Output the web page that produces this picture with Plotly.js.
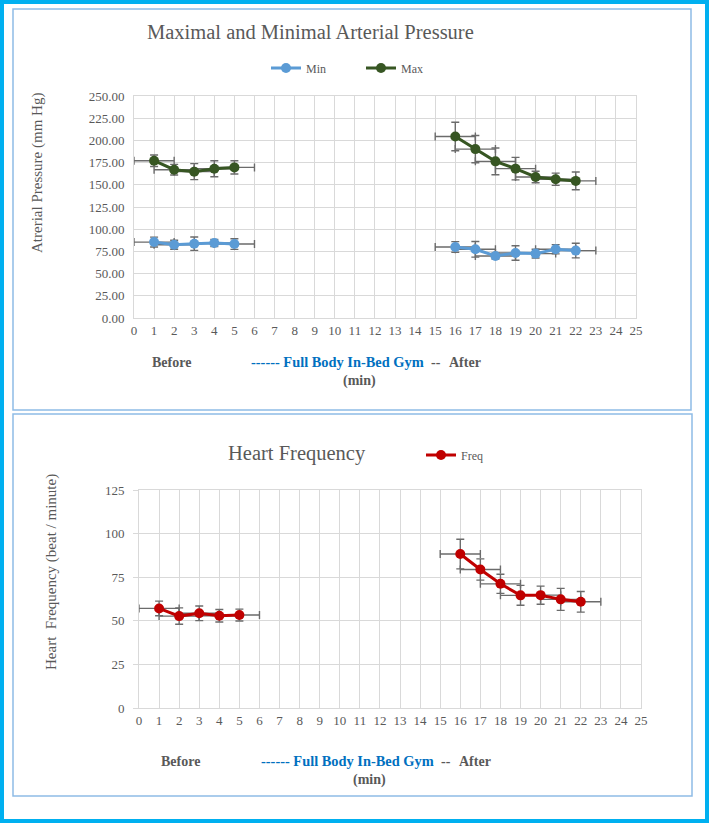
<!DOCTYPE html>
<html>
<head>
<meta charset="utf-8">
<script src="https://cdn.plot.ly/plotly-3.0.1.min.js"></script>
<style>html,body{margin:0;padding:0;background:#fff;}#chart{width:709px;height:823px;}</style>
</head>
<body>
<div id="chart"></div>
<script>
// ---- data ----
const minutes = [1,2,3,4,5,6,7,8,9,10,11,12,13,14,15,16,17,18,19,20,21,22];
const minPressure = [85.5,82.5,83.7,84.4,83.3, null,null,null,null,null,null,null,null,null,null, 80.0,77.4,69.9,73.2,72.5,77.4,75.9];
const minPressureErr = [5.6,5.0,7.5,4.0,6.0, null,null,null,null,null,null,null,null,null,null, 6.0,8.8,3.4,8.2,5.0,5.2,8.2];
const maxPressure = [177.1,167.0,164.8,168.0,169.6, null,null,null,null,null,null,null,null,null,null, 204.4,190.2,176.4,168.2,158.8,156.2,154.4];
const maxPressureErr = [6.5,6.0,9.0,9.0,7.5, null,null,null,null,null,null,null,null,null,null, 16.0,15.3,15.0,12.7,6.5,6.9,10.0];
const heartFreq = [57.1,52.7,54.3,52.9,53.3, null,null,null,null,null,null,null,null,null,null, 88.3,79.4,71.2,64.6,64.7,62.3,60.9];
const heartFreqErr = [4.2,4.7,4.2,3.6,3.4, null,null,null,null,null,null,null,null,null,null, 8.5,6.1,5.5,5.7,5.2,6.3,5.9];
const minuteErr = 1;
const xTicks = [0,1,2,3,4,5,6,7,8,9,10,11,12,13,14,15,16,17,18,19,20,21,22,23,24,25];
const pressureTicks = [0,25,50,75,100,125,150,175,200,225,250];
const freqTicks = [0,25,50,75,100,125];

// ---- helpers ----
const W = 709, H = 823;
const px = x => x / W;
const py = y => 1 - y / H;
const SERIF = 'Liberation Serif, Times New Roman, serif';
const GRAY = '#595959';
const errColor = '#6b6b6b';

function errY(arr) { return {type:'data', array:arr, visible:true, color:errColor, thickness:1.4, width:4}; }
function errX() { return {type:'constant', value:minuteErr, visible:true, color:errColor, thickness:1.4, width:4}; }

const traces = [
  {x:minutes, y:minPressure, name:'Min', type:'scatter', mode:'lines+markers',
   line:{color:'#5B9BD5', width:3}, marker:{color:'#5B9BD5', size:10},
   error_y:errY(minPressureErr), error_x:errX(), xaxis:'x', yaxis:'y', legend:'legend', connectgaps:false},
  {x:minutes, y:maxPressure, name:'Max', type:'scatter', mode:'lines+markers',
   line:{color:'#375623', width:3}, marker:{color:'#375623', size:10},
   error_y:errY(maxPressureErr), error_x:errX(), xaxis:'x', yaxis:'y', legend:'legend', connectgaps:false},
  {x:minutes, y:heartFreq, name:'Freq', type:'scatter', mode:'lines+markers',
   line:{color:'#C00000', width:3}, marker:{color:'#C00000', size:10},
   error_y:errY(heartFreqErr), error_x:errX(), xaxis:'x2', yaxis:'y2', legend:'legend2', connectgaps:false}
];

const tickFont = {family:SERIF, size:13, color:GRAY};
function xAxis(domain, anchor) {
  return {domain:domain, anchor:anchor, range:[0,25], tickmode:'array', tickvals:xTicks,
    showgrid:true, gridcolor:'#D9D9D9', gridwidth:1, zeroline:false,
    showline:true, linecolor:'#D9D9D9', linewidth:1, mirror:true, ticks:'',
    tickfont:tickFont, fixedrange:true};
}
function yAxis(domain, anchor, ticks, fmt, tickmarks) {
  return {domain:domain, anchor:anchor, range:[0, ticks[ticks.length-1]], tickmode:'array', tickvals:ticks,
    tickformat:fmt, showgrid:true, gridcolor:'#D9D9D9', gridwidth:1, zeroline:false,
    showline:true, linecolor:'#D9D9D9', linewidth:1, mirror:true,
    ticks:tickmarks, ticklen:5, tickcolor:'#D9D9D9', ticklabelstandoff:6,
    tickfont:tickFont, fixedrange:true};
}

function txt(text, x, y, opts) {
  return Object.assign({text:text, x:px(x), y:py(y), xref:'paper', yref:'paper', showarrow:false,
    xanchor:'left', yanchor:'middle', font:{family:SERIF, size:14, color:GRAY}}, opts || {});
}

const annotations = [
  txt('Maximal and Minimal Arterial Pressure', 310, 32, {xanchor:'center', font:{family:SERIF, size:20.5, color:GRAY}}),
  txt('Heart Frequency', 297, 453, {xanchor:'center', font:{family:SERIF, size:20.5, color:GRAY}}),
  txt('Atrerial Pressure (mm Hg)', 38, 173, {xanchor:'center', textangle:-90, font:{family:SERIF, size:15, color:GRAY}}),
  txt('Heart&nbsp;&nbsp;Frequency (beat / minute)', 51, 572, {xanchor:'center', textangle:-90, font:{family:SERIF, size:15, color:GRAY}}),
  // top x-axis caption
  txt('<b>Before</b>', 150, 362),
  txt('<b>------ Full Body In-Bed Gym</b>', 249, 362, {font:{family:SERIF, size:14.4, color:'#0070C0'}}),
  txt('<b>--</b>', 429, 362),
  txt('<b>After</b>', 447, 362),
  txt('<b>(min)</b>', 341, 381),
  // bottom x-axis caption
  txt('<b>Before</b>', 159, 761),
  txt('<b>------ Full Body In-Bed Gym</b>', 259, 761, {font:{family:SERIF, size:14.4, color:'#0070C0'}}),
  txt('<b>--</b>', 439, 761),
  txt('<b>After</b>', 457, 761),
  txt('<b>(min)</b>', 351, 780)
];

const shapes = [
  {type:'rect', xref:'paper', yref:'paper', x0:px(2), x1:px(707), y0:py(2), y1:py(821), line:{color:'#00B0F0', width:4}},
  {type:'rect', xref:'paper', yref:'paper', x0:px(13), x1:px(691), y0:py(9), y1:py(410), line:{color:'#8FBCE6', width:1.5}},
  {type:'rect', xref:'paper', yref:'paper', x0:px(13), x1:px(692), y0:py(414), y1:py(796), line:{color:'#8FBCE6', width:1.5}}
];

const layout = {
  width:W, height:H, margin:{l:0, r:0, t:0, b:0}, paper_bgcolor:'#fff', plot_bgcolor:'#fff',
  showlegend:true,
  xaxis:xAxis([px(134), px(636)], 'y'),
  yaxis:yAxis([py(318), py(96)], 'x', pressureTicks, '.2f', ''),
  xaxis2:xAxis([px(139), px(641)], 'y2'),
  yaxis2:yAxis([py(708), py(490)], 'x2', freqTicks, 'd', 'outside'),
  legend:{x:px(266), y:py(68), xanchor:'left', yanchor:'middle', orientation:'h',
    font:{family:SERIF, size:12, color:GRAY}, bgcolor:'rgba(0,0,0,0)', entrywidth:50, itemclick:false},
  legend2:{x:px(421), y:py(455), xanchor:'left', yanchor:'middle', orientation:'h',
    font:{family:SERIF, size:12, color:GRAY}, bgcolor:'rgba(0,0,0,0)', itemclick:false},
  annotations:annotations, shapes:shapes
};

Plotly.newPlot('chart', traces, layout, {staticPlot:true, displayModeBar:false});
</script>
</body>
</html>
